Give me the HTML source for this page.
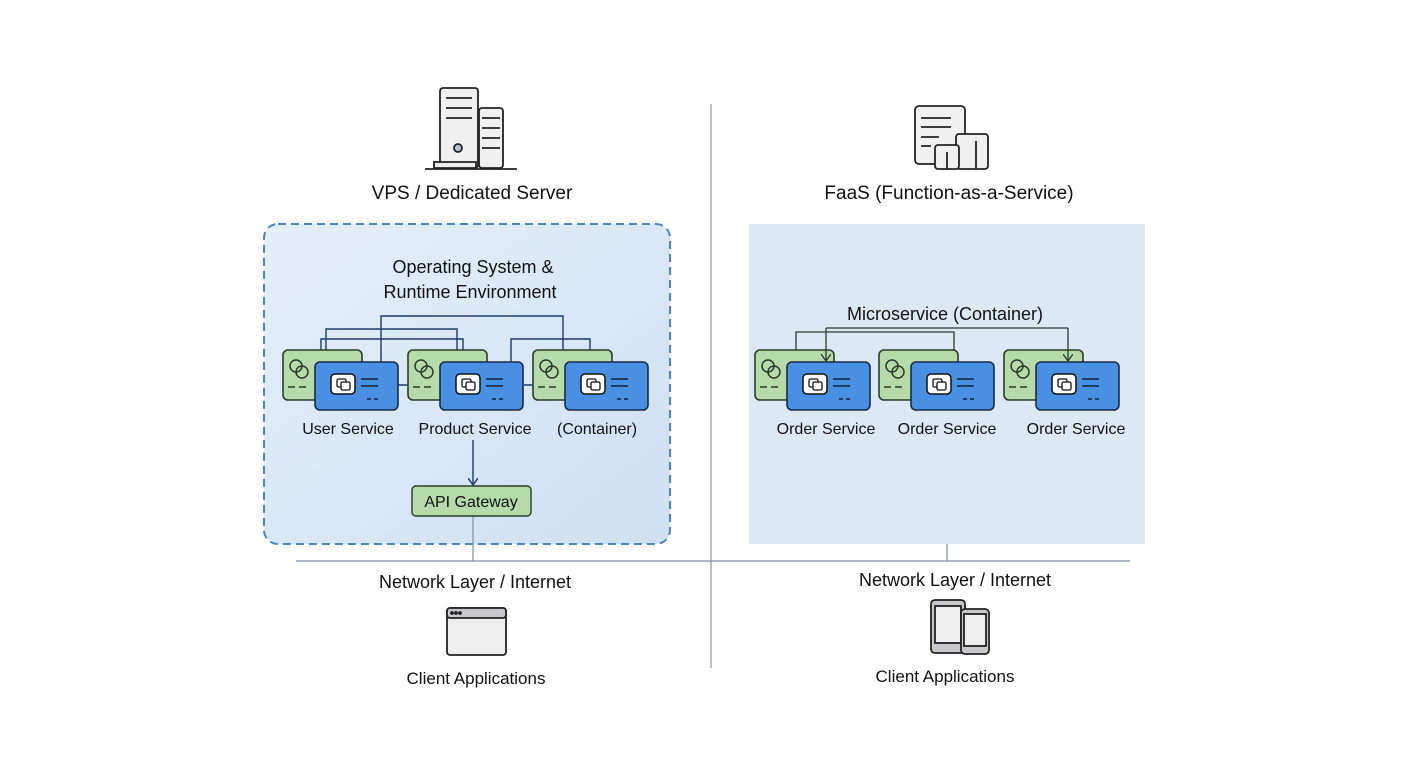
<!DOCTYPE html>
<html><head><style>
body{margin:0;background:#fff;}
svg text{font-family:"Liberation Sans",sans-serif;fill:#111;}
</style></head><body>
<svg width="1408" height="768" viewBox="0 0 1408 768" xmlns="http://www.w3.org/2000/svg">
<defs>
<linearGradient id="lg" x1="0" y1="0" x2="1" y2="1"><stop offset="0" stop-color="#e4eef9"/><stop offset="1" stop-color="#cfe0f3"/></linearGradient>
<marker id="ar" markerWidth="8" markerHeight="10" refX="7" refY="5" orient="auto" markerUnits="userSpaceOnUse"><path d="M0,0 L7,5 L0,10" fill="none" stroke="#1e3a6e" stroke-width="1.4"/></marker>
<marker id="ar2" markerWidth="8" markerHeight="10" refX="7" refY="5" orient="auto" markerUnits="userSpaceOnUse"><path d="M0,0 L7,5 L0,10" fill="none" stroke="#2c3a2a" stroke-width="1.3"/></marker>
<g id="svc">
<rect x="0" y="0" width="79" height="50" rx="5" fill="#b5dba8" stroke="#2c3a2a" stroke-width="1.6"/>
<circle cx="13" cy="16" r="6" fill="none" stroke="#2c3a2a" stroke-width="1.5"/>
<circle cx="19" cy="22" r="6" fill="none" stroke="#2c3a2a" stroke-width="1.5"/>
<path d="M5,37h7M16,37h7" stroke="#2c3a2a" stroke-width="1.5"/>
<rect x="32" y="12" width="83" height="48" rx="5" fill="#4a90e2" stroke="#1a2a44" stroke-width="1.6"/>
<rect x="48" y="24" width="24" height="20" rx="4" fill="#fff" stroke="#111" stroke-width="1.5"/>
<rect x="54" y="29" width="9" height="8" rx="1.5" fill="none" stroke="#111" stroke-width="1.3"/>
<rect x="58" y="32" width="9" height="8" rx="1.5" fill="#fff" stroke="#111" stroke-width="1.3"/>
<path d="M78,29h17M78,36h17M84,49h4M91,49h4" stroke="#10233f" stroke-width="1.6"/>
</g>
</defs>
<rect x="264" y="224" width="406" height="320" rx="14" fill="url(#lg)" stroke="#4a86c0" stroke-width="2" stroke-dasharray="8,5"/>
<rect x="749" y="224" width="396" height="320" fill="#dde8f5"/>
<line x1="711" y1="104" x2="711" y2="668" stroke="#8a98a8" stroke-width="1.2"/>
<line x1="296" y1="561" x2="1130" y2="561" stroke="#7a8ea4" stroke-width="1.2"/>
<line x1="473" y1="516" x2="473" y2="561" stroke="#7a8ea4" stroke-width="1.2"/>
<line x1="947" y1="544" x2="947" y2="561" stroke="#7a8ea4" stroke-width="1.2"/>
<g stroke="#222" stroke-width="1.8" fill="#f0f0f0">
<rect x="479" y="108" width="24" height="60" rx="3"/>
<rect x="440" y="88" width="38" height="80" rx="3"/>
<path d="M446,98h26M446,108h26M446,118h26M482,118h18M482,128h18M482,138h18M482,148h18" fill="none"/>
<circle cx="458" cy="148" r="4" fill="#b8c2d0"/>
<path d="M434,162h42v6h-42z" fill="#eee"/>
<line x1="425" y1="169" x2="517" y2="169"/>
</g>
<g stroke="#222" stroke-width="1.8" fill="#f0f0f0">
<rect x="915" y="106" width="50" height="58" rx="4"/>
<path d="M921,118h30M921,127h30M921,137h18M921,146h10" fill="none"/>
<rect x="956" y="134" width="32" height="35" rx="3"/>
<rect x="935" y="145" width="24" height="24" rx="3"/>
<path d="M947,152v17M976,141v28" fill="none"/>
</g>
<text x="472" y="199" font-size="19" text-anchor="middle">VPS / Dedicated Server</text>
<text x="949" y="199" font-size="19" text-anchor="middle">FaaS (Function-as-a-Service)</text>
<text x="473" y="273" font-size="18" text-anchor="middle">Operating System &amp;</text>
<text x="470" y="298" font-size="18" text-anchor="middle">Runtime Environment</text>
<text x="945" y="320" font-size="18" text-anchor="middle">Microservice (Container)</text>
<g stroke="#1e3a6e" stroke-width="1.4" fill="none">
<path d="M381,362V316H563V350"/>
<path d="M326,350V329H457V362"/>
<path d="M321,350V339H463V362"/>
<path d="M511,362V339H590V362"/>
<path d="M398,385H408M524,385H533"/>
<path d="M473,440V485" marker-end="url(#ar)"/>
</g>
<use href="#svc" x="283" y="350"/>
<use href="#svc" x="408" y="350"/>
<use href="#svc" x="533" y="350"/>
<g stroke="#2c3a2a" stroke-width="1.3" fill="none">
<path d="M796,350V332H954V350"/>
<path d="M826,328H1068"/>
</g>
<use href="#svc" x="755" y="350"/>
<use href="#svc" x="879" y="350"/>
<use href="#svc" x="1004" y="350"/>
<g stroke="#2c3a2a" stroke-width="1.3" fill="none">
<path d="M826,328V361" marker-end="url(#ar2)"/>
<path d="M1068,328V361" marker-end="url(#ar2)"/>
</g>
<g font-size="16" text-anchor="middle">
<text x="348" y="434">User Service</text>
<text x="475" y="434">Product Service</text>
<text x="597" y="434">(Container)</text>
<text x="826" y="434">Order Service</text>
<text x="947" y="434">Order Service</text>
<text x="1076" y="434">Order Service</text>
</g>
<rect x="412" y="486" width="119" height="30" rx="4" fill="#b5dba8" stroke="#2c3a2a" stroke-width="1.4"/>
<text x="471" y="507" font-size="16" text-anchor="middle">API Gateway</text>
<text x="475" y="588" font-size="18" text-anchor="middle">Network Layer / Internet</text>
<text x="955" y="586" font-size="18" text-anchor="middle">Network Layer / Internet</text>
<g stroke="#222" stroke-width="1.8">
<rect x="447" y="608" width="59" height="47" rx="3" fill="#eee"/>
<rect x="447" y="608" width="59" height="10" rx="3" fill="#c8c8cc"/>
<circle cx="452" cy="613" r="1" fill="#222"/><circle cx="456" cy="613" r="1" fill="#222"/><circle cx="460" cy="613" r="1" fill="#222"/>
</g>
<g stroke="#222" stroke-width="1.8">
<rect x="931" y="600" width="34" height="53" rx="4" fill="#c8c8cc"/>
<rect x="935" y="606" width="26" height="37" fill="#eee"/>
<rect x="961" y="609" width="28" height="45" rx="4" fill="#c8c8cc"/>
<rect x="964" y="614" width="22" height="32" fill="#eee"/>
</g>
<text x="476" y="684" font-size="17" text-anchor="middle">Client Applications</text>
<text x="945" y="682" font-size="17" text-anchor="middle">Client Applications</text>
</svg>
</body></html>
